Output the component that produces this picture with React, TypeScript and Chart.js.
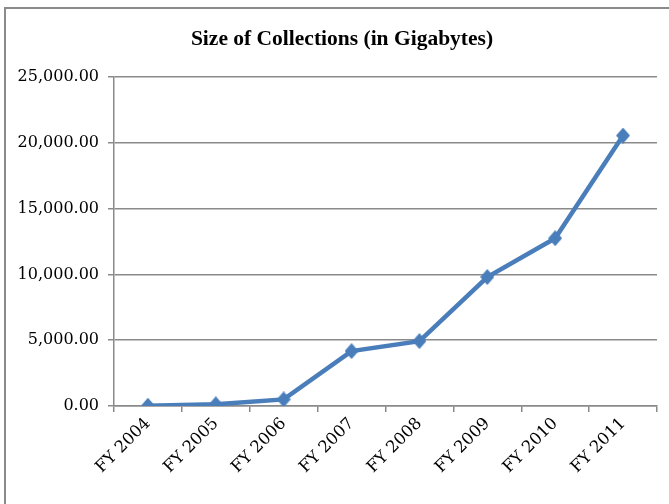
import React, { useEffect, useRef } from "react";
import { Chart, registerables } from "chart.js";

Chart.register(...registerables);

const TITLE = "Size of Collections (in Gigabytes)";
const CATEGORIES = ["FY 2004", "FY 2005", "FY 2006", "FY 2007", "FY 2008", "FY 2009", "FY 2010", "FY 2011"];
const SIZES_GB = [20, 130, 500, 4170, 4930, 9800, 12750, 20550];
const Y_MIN = 0;
const Y_MAX = 25000;
const Y_STEP = 5000;

const W = 669;
const H = 504;
const BLUE = "#4a7ebb";

const framePlugin = {
  id: "framePlugin",
  beforeDraw(chart: any) {
    const ctx = chart.ctx;
    ctx.save();
    ctx.fillStyle = "#ffffff";
    ctx.fillRect(0, 0, chart.width, chart.height);
    ctx.strokeStyle = "#8a8a8a";
    ctx.lineWidth = 2;
    ctx.strokeRect(5, 8, 900, 900);
    ctx.restore();
  },
  afterDraw(chart: any) {
    const ctx = chart.ctx;
    ctx.save();
    ctx.font = "bold 21.5px 'Liberation Serif'";
    ctx.fillStyle = "#000000";
    ctx.textAlign = "center";
    ctx.textBaseline = "alphabetic";
    ctx.fillText(TITLE, 342, 45);
    ctx.restore();
  },
};

function makeDiamond(): HTMLCanvasElement {
  const c = document.createElement("canvas");
  c.width = 14;
  c.height = 16;
  const g = c.getContext("2d")!;
  g.fillStyle = BLUE;
  g.beginPath();
  g.moveTo(7, 0);
  g.lineTo(14, 8);
  g.lineTo(7, 16);
  g.lineTo(0, 8);
  g.closePath();
  g.fill();
  return c;
}

export default function App() {
  const ref = useRef<HTMLCanvasElement | null>(null);

  useEffect(() => {
    document.body.style.margin = "0";
    if (!ref.current) return;
    const diamond = makeDiamond();
    const chart = new Chart(ref.current, {
      type: "line",
      data: {
        labels: CATEGORIES,
        datasets: [
          {
            label: TITLE,
            data: SIZES_GB,
            borderColor: BLUE,
            backgroundColor: BLUE,
            borderWidth: 4.5,
            pointStyle: diamond as any,
            pointRadius: 7,
            tension: 0,
          },
        ],
      },
      options: {
        responsive: false,
        animation: false,
        layout: { padding: { left: 0, right: 12, top: 77, bottom: 0 } },
        plugins: {
          legend: { display: false },
          title: { display: false },
          tooltip: { enabled: false },
        },
        scales: {
          x: {
            type: "category",
            offset: true,
            afterFit: (scale: any) => {
              scale.height = H - 406;
            },
            grid: {
              offset: true,
              drawOnChartArea: false,
              drawTicks: true,
              tickLength: 6,
              color: "#8a8a8a",
              lineWidth: 1.5,
            },
            border: { display: true, color: "#8a8a8a", width: 1.5 },
            ticks: {
              minRotation: 45,
              maxRotation: 45,
              padding: 2,
              color: "#000000",
              font: { family: "'DejaVu Serif'", size: 16.5 },
              autoSkip: false,
            },
          },
          y: {
            min: Y_MIN,
            max: Y_MAX,
            afterFit: (scale: any) => {
              scale.width = 114;
            },
            grid: {
              color: "#8a8a8a",
              lineWidth: 1.5,
              drawTicks: true,
              tickLength: 6,
            },
            border: { display: true, color: "#8a8a8a", width: 1.5 },
            ticks: {
              stepSize: Y_STEP,
              padding: 9,
              color: "#000000",
              font: { family: "'DejaVu Serif'", size: 16 },
              callback: (v: any) =>
                Number(v).toLocaleString("en-US", { minimumFractionDigits: 2, maximumFractionDigits: 2 }),
            },
          },
        },
      },
      plugins: [framePlugin],
    });
    return () => chart.destroy();
  }, []);

  return (
    <div style={{ position: "absolute", left: 0, top: 0, width: W, height: H }}>
      <canvas ref={ref} width={W} height={H} style={{ display: "block" }} />
    </div>
  );
}
